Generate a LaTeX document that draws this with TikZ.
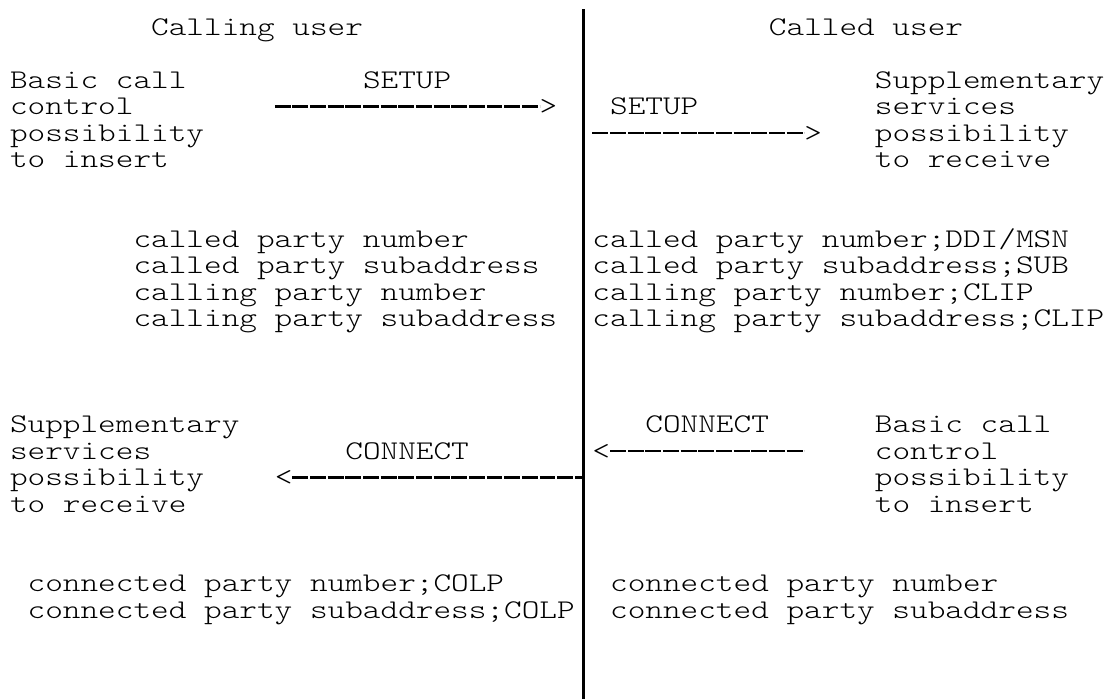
\documentclass[tikz,border=0pt]{standalone}
\usepackage{fontspec}
\newfontfamily\diagmono{lmmonolt10-regular}[Extension=.otf, FakeStretch=1.245]
\begin{document}
\begin{tikzpicture}[x=1pt,y=-1pt,
  txt/.style={inner sep=0pt, outer sep=0pt, anchor=base west, font=\diagmono\fontsize{27}{26.5}\selectfont, text=black},
  dashline/.style={line width=2.8pt, dash pattern=on 15.9pt off 1.75pt},
  barline/.style={line width=2.2pt}]
\fill[white] (0,0) rectangle (1109,699);
\useasboundingbox (0,0) rectangle (1109,699);
% grid: column c starts at x = 10 + 17.65 c ; row r baseline at y = 35 + 26.5 r ; row centre at 27 + 26.5 r
\def\cx#1{{10+17.65*(#1)}}
\def\by#1{{35+26.5*(#1)}}
\def\my#1{{27+26.5*(#1)}}
% headings
\node[txt] (calling) at (\cx{8},\by{0}) {Calling user};
\node[txt] (called) at (\cx{43},\by{0}) {Called user};
% vertical separator
\coordinate (vtop) at (583.5,9);
\coordinate (vbot) at (583.5,699);
\draw[barline] (vtop) -- (vbot);
% top left block
\foreach \t [count=\i from 0] in {{Basic call},{control},{possibility},{to insert}}
  \node[txt] (bcl\i) at (\cx{0},\by{2+\i}) {\t};
% top right block
\foreach \t [count=\i from 0] in {{Supplementary},{services},{possibility},{to receive}}
  \node[txt] (ssr\i) at (\cx{49},\by{2+\i}) {\t};
% SETUP left
\node[txt] (setupL) at (\cx{20},\by{2}) {SETUP};
\coordinate (a1s) at (\cx{15},\my{3});
\node[txt] (a1h) at (\cx{30},\by{3}) {>};
\draw[dashline] (a1s) -- (a1s -| a1h.west);
% SETUP right
\node[txt] (setupR) at (\cx{34},\by{3}) {SETUP};
\coordinate (a2s) at (\cx{33},\my{4});
\node[txt] (a2h) at (\cx{45},\by{4}) {>};
\draw[dashline] (a2s) -- (a2s -| a2h.west);
% middle left block
\foreach \t [count=\i from 0] in {{called party number},{called party subaddress},{calling party number},{calling party subaddress}}
  \node[txt] (ml\i) at (\cx{7},\by{8+\i}) {\t};
% middle right block
\foreach \t [count=\i from 0] in {{called party number;DDI/MSN},{called party subaddress;SUB},{calling party number;CLIP},{calling party subaddress;CLIP}}
  \node[txt] (mr\i) at (\cx{33},\by{8+\i}) {\t};
% lower left block
\foreach \t [count=\i from 0] in {{Supplementary},{services},{possibility},{to receive}}
  \node[txt] (ssl\i) at (\cx{0},\by{15+\i}) {\t};
% lower right block
\foreach \t [count=\i from 0] in {{Basic call},{control},{possibility},{to insert}}
  \node[txt] (bcr\i) at (\cx{49},\by{15+\i}) {\t};
% CONNECT left
\node[txt] (connL) at (\cx{19},\by{16}) {CONNECT};
\node[txt] (a3h) at (\cx{15},\by{17}) {<};
\coordinate (a3e) at (583.5,\my{17});
\draw[dashline] (a3e -| a3h.east) -- (a3e);
% CONNECT right
\node[txt] (connR) at (\cx{36},\by{15}) {CONNECT};
\node[txt] (a4h) at (\cx{33},\by{16}) {<};
\coordinate (a4e) at (\cx{45},\my{16});
\draw[dashline] (a4e -| a4h.east) -- (a4e);
% bottom blocks
\node[txt] (bl0) at (\cx{1},\by{21}) {connected party number;COLP};
\node[txt] (bl1) at (\cx{1},\by{22}) {connected party subaddress;COLP};
\node[txt] (br0) at (\cx{34},\by{21}) {connected party number};
\node[txt] (br1) at (\cx{34},\by{22}) {connected party subaddress};
\end{tikzpicture}
\end{document}
